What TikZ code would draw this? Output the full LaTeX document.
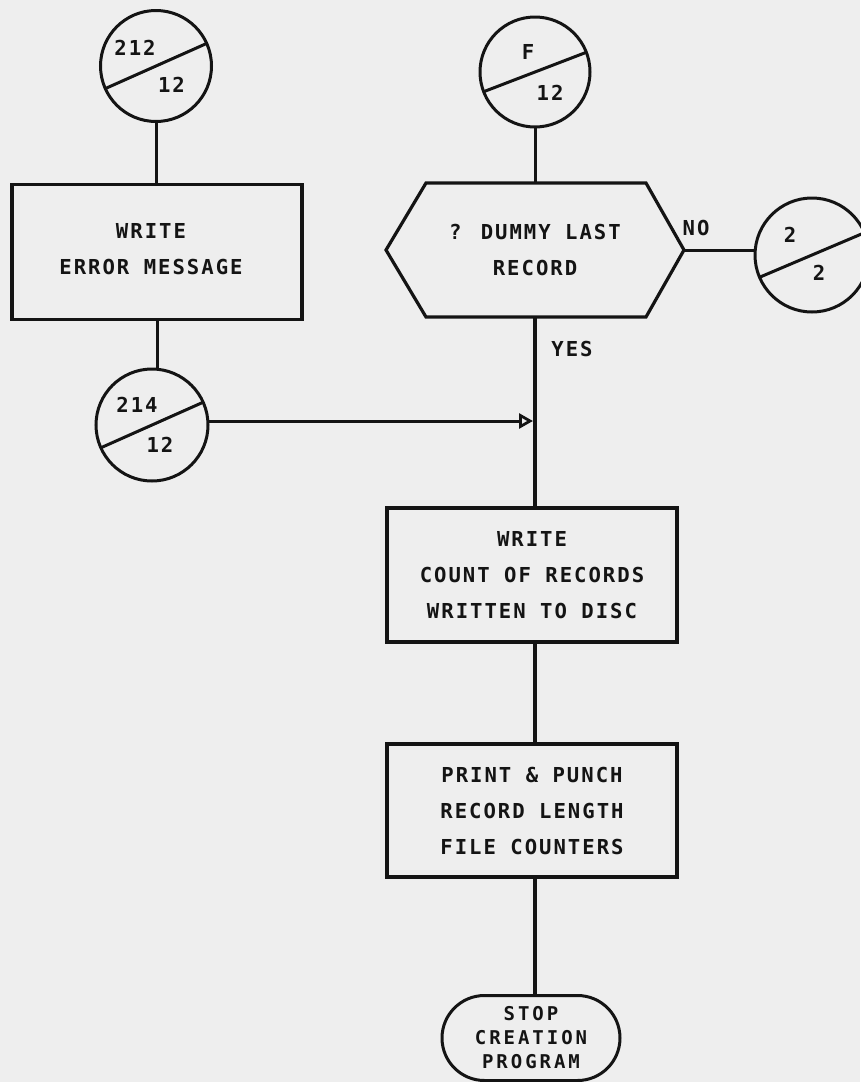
\documentclass[tikz,border=0pt]{standalone}
\usepackage{fontspec}
\usetikzlibrary{arrows.meta,shapes.misc}
\newfontfamily\mfont[LetterSpace=9.7]{DejaVu Sans Mono}
\newfontfamily\sfont[LetterSpace=15.6]{DejaVu Sans Mono}
\definecolor{paper}{HTML}{EEEEEE}
\definecolor{ink}{HTML}{141414}
\tikzset{
  txt/.style={font={\mfont\bfseries\fontsize{20.6}{36}\selectfont}, text=ink, align=center},
  stxt/.style={font={\sfont\bfseries\fontsize{19}{24}\selectfont}, text=ink, align=center},
  procbox/.style={rectangle, draw=ink, line width=3.4pt, inner sep=0pt, outer sep=0pt, txt},
  conn/.style={circle, draw=ink, line width=3pt, inner sep=0pt, outer sep=0pt},
  flow/.style={draw=ink, line width=3pt},
  lbl/.style={txt, inner sep=0pt}
}
\begin{document}
\begin{tikzpicture}[x=1pt,y=-1pt]
\fill[paper] (0,0) rectangle (860,1082);
\useasboundingbox (0,0) rectangle (860,1082);

% connectors (off-page circles)
\node[conn, minimum size=111pt] (c212) at (156,66) {};
\draw[ink, line width=3pt] (c212.204) -- (c212.24);
\node[lbl] (c212t) at (135,47.5) {212};
\node[lbl] (c212b) at (171.5,84.5) {12};

\node[conn, minimum size=110pt] (cF) at (535,72) {};
\draw[ink, line width=3pt] (cF.201) -- (cF.21);
\node[lbl] (cFt) at (528,51.5) {F};
\node[lbl] (cFb) at (550,92.5) {12};

\node[conn, minimum size=112pt] (c214) at (152,425) {};
\draw[ink, line width=3pt] (c214.204) -- (c214.24);
\node[lbl] (c214t) at (137,405) {214};
\node[lbl] (c214b) at (160,445) {12};

\node[conn, minimum size=114pt] (c22) at (812,255) {};
\draw[ink, line width=3pt] (c22.203) -- (c22.23);
\node[lbl] (c22t) at (790,235) {2};
\node[lbl] (c22b) at (819,273) {2};

% process boxes
\node[procbox, minimum width=290pt, minimum height=135pt] (err) at (157,252) {};
\node[txt, inner sep=0pt] (errt) at (151,249) {WRITE\\ERROR MESSAGE};
\node[procbox, minimum width=290pt, minimum height=134pt] (count) at (532,575) {WRITE\\COUNT OF RECORDS\\WRITTEN TO DISC};
\node[procbox, minimum width=290pt, minimum height=133pt] (print) at (532,810.5) {PRINT \& PUNCH\\RECORD LENGTH\\FILE COUNTERS};

% decision hexagon
\node[txt, minimum width=298pt, minimum height=134pt, inner sep=0pt, outer sep=0pt] (hex) at (535,250) {? DUMMY LAST\\RECORD};
\draw[ink, line width=3.2pt, line join=miter] (hex.west) -- ([xshift=40pt]hex.north west) -- ([xshift=-38pt]hex.north east) -- (hex.east) -- ([xshift=-38pt]hex.south east) -- ([xshift=40pt]hex.south west) -- cycle;

% terminator
\node[rounded rectangle, draw=ink, line width=3pt, minimum width=178pt, minimum height=85pt, inner sep=0pt, outer sep=0pt, stxt] (stop) at (531,1038) {STOP\\CREATION\\PROGRAM};

% flow lines
\draw[flow] (c212.south) -- (c212.south |- err.north);
\draw[flow] (err.south) -- (err.south |- c214.north);
\draw[flow] (cF.south) -- (cF.south |- hex.north);
\draw[flow] (hex.east) -- (hex.east -| c22.west);
\draw[flow, line width=3.4pt] (hex.south) -- (hex.south |- count.north);
\draw[flow, line width=3.4pt] (hex.south |- count.south) -- (hex.south |- print.north);
\draw[flow, line width=3.4pt] (hex.south |- print.south) -- (hex.south |- stop.north);
\coordinate (join) at (hex.south |- 0,421);
\draw[flow, -{Triangle[open, length=14pt, width=15pt, line width=2.8pt]}] (c214.east |- join) -- ([xshift=-2pt]join);

% labels
\node[lbl] (no) at (696,228) {NO};
\node[lbl] (yes) at (572,349) {YES};
\end{tikzpicture}
\end{document}
